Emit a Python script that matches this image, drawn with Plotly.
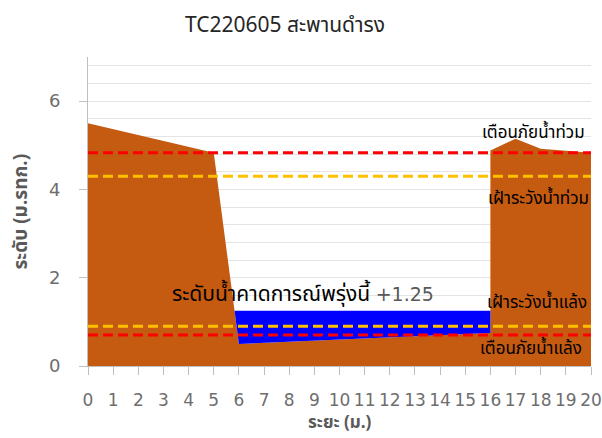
import plotly.graph_objects as go
import numpy as np

# ---- data ----
distance = [0, 5, 6, 16, 16, 17, 18, 19, 20]
ground_level = [5.5, 4.83, 0.5, 0.75, 4.88, 5.15, 4.92, 4.87, 4.83]
forecast_level = 1.25
flood_warning = 4.83
flood_watch = 4.3
drought_watch = 0.9
drought_warning = 0.7
x_ticks = list(range(0, 21))
y_ticks = [0, 2, 4, 6]

# ---- water polygon computed from data ----
low = [i for i, v in enumerate(ground_level) if v < forecast_level]
i0, i1 = low[0], low[-1]
xa, ya = distance[i0 - 1], ground_level[i0 - 1]
xb, yb = distance[i0], ground_level[i0]
x_left = xa + (ya - forecast_level) / (ya - yb) * (xb - xa)
x_right = distance[i1 + 1]
water_x = [x_left, x_right] + [distance[i] for i in range(i1, i0 - 1, -1)] + [x_left]
water_y = [forecast_level, forecast_level] + [ground_level[i] for i in range(i1, i0 - 1, -1)] + [forecast_level]

THAI = "Tahoma, 'Noto Sans Thai', 'Noto Sans', sans-serif"
TICK = "'DejaVu Sans', Verdana, sans-serif"

fig = go.Figure()
fig.add_trace(go.Scatter(x=distance, y=ground_level, mode="lines", fill="tozeroy",
                         line=dict(color="#C55A11", width=0), fillcolor="#C55A11",
                         hoverinfo="skip"))
fig.add_trace(go.Scatter(x=water_x, y=water_y, mode="lines", fill="toself",
                         line=dict(color="#0000FF", width=0), fillcolor="#0000FF",
                         hoverinfo="skip"))
for lvl, col in [(flood_warning, "#FF0000"), (flood_watch, "#FFC000"),
                 (drought_watch, "#FFC000"), (drought_warning, "#FF0000")]:
    fig.add_trace(go.Scatter(x=[x_ticks[0], x_ticks[-1]], y=[lvl, lvl], mode="lines",
                             line=dict(color=col, width=3, dash="10px,5px"),
                             hoverinfo="skip"))

labels = [
    (17.7, 5.28, "เตือนภัยน้ำท่วม"),
    (17.9, 3.79, "เฝ้าระวังน้ำท่วม"),
    (17.85, 1.42, "เฝ้าระวังน้ำแล้ง"),
    (17.6, 0.38, "เตือนภัยน้ำแล้ง"),
]
for x, y, t in labels:
    fig.add_annotation(x=x, y=y, text=t, showarrow=False, xanchor="center", yanchor="middle",
                       font=dict(family=THAI, size=17, color="#000000"))

fig.add_annotation(x=3.26, y=1.62, xanchor="left", yanchor="middle", showarrow=False,
                   text="ระดับน้ำคาดการณ์พรุ่งนี้ <span style='font-family:DejaVu Sans;font-size:19px;color:#595959'>+%.2f</span>" % forecast_level,
                   font=dict(family=THAI, size=21, color="#000000"))

# axis titles (paper coords relative to plot area 88..591 x 57..366)
fig.add_annotation(x=0.5, y=(366 - 423) / 309, xref="paper", yref="paper", showarrow=False,
                   text="<b>ระยะ (ม.)</b>", xanchor="center", yanchor="middle",
                   font=dict(family=THAI, size=17, color="#595959"))
fig.add_annotation(x=(21 - 88) / 503, y=0.5, xref="paper", yref="paper", showarrow=False,
                   text="<b>ระดับ (ม.รทก.)</b>", textangle=-90, xanchor="center", yanchor="middle",
                   font=dict(family=THAI, size=19, color="#595959"))

fig.update_layout(
    width=602, height=438,
    margin=dict(l=88, r=11, t=57, b=72),
    paper_bgcolor="white", plot_bgcolor="white",
    showlegend=False,
    title=dict(text="TC220605 สะพานดำรง", x=285 / 602, xref="container", xanchor="center",
               y=1 - 25 / 438, yref="container", yanchor="middle",
               font=dict(family=THAI, size=21, color="#262626")),
    xaxis=dict(range=[0, 20], tickmode="array", tickvals=x_ticks, showgrid=False, zeroline=False,
               showline=True, linecolor="#bfbfbf", linewidth=1, automargin=False,
               ticks="outside", ticklen=8, tickcolor="#bfbfbf",
               ticklabelstandoff=11, ticklabeloverflow="allow",
               tickfont=dict(family=TICK, size=17, color="#6e6e6e")),
    yaxis=dict(range=[0, 7], tickmode="array", tickvals=y_ticks, showgrid=True,
               gridcolor="#e4e4e4", gridwidth=1, zeroline=False, automargin=False,
               minor=dict(dtick=0.4, tick0=0, showgrid=True, gridcolor="#e4e4e4", gridwidth=1),
               showline=True, linecolor="#bfbfbf", linewidth=1,
               ticks="outside", ticklen=8, tickcolor="#bfbfbf",
               ticklabelstandoff=15,
               tickfont=dict(family=TICK, size=18, color="#6e6e6e")),
)

fig.write_html("out.html", config={"displayModeBar": False},
               post_script="document.body.style.margin='0';document.body.style.padding='0';")
